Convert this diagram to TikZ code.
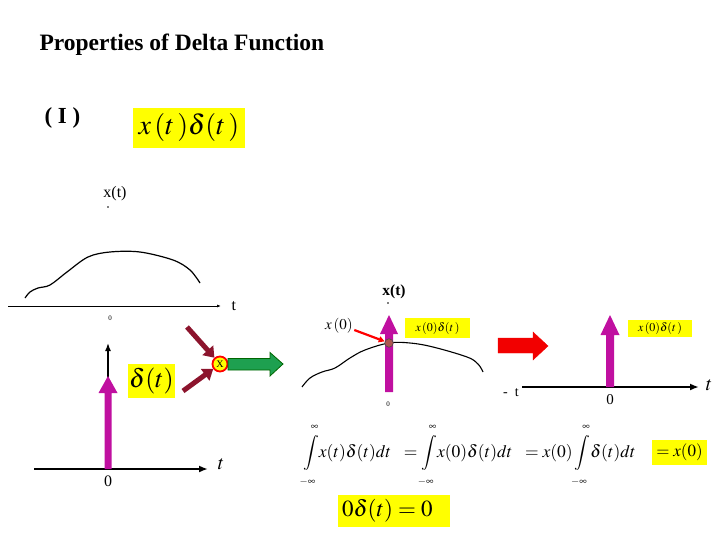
\documentclass[tikz,border=0pt]{standalone}
\usepackage{mathptmx}
\usepackage[no-math]{fontspec}
\setmainfont{Liberation Serif}
\usepackage{tikz}
\usetikzlibrary{arrows.meta}

\definecolor{spikemag}{RGB}{192,16,160}
\definecolor{feedred}{RGB}{140,20,45}
\definecolor{outgreen}{RGB}{30,160,80}
\definecolor{hlyellow}{RGB}{255,255,0}
\definecolor{pointbrown}{RGB}{175,85,80}

\newcommand{\uplim}{\raisebox{3pt}{$\scriptscriptstyle\infty$}}
\newcommand{\lowlim}{\raisebox{-3pt}{$\scriptscriptstyle-\infty$}}

\begin{document}
\begin{tikzpicture}[x=1pt,y=-1pt,
    hl/.style={fill=hlyellow, inner sep=0pt},
    spike/.style={fill=spikemag},
    axis/.style={line width=1.8pt, -{Latex[length=9pt,width=7pt]}},
    thinaxis/.style={line width=0.8pt, -{Latex[length=4pt,width=3pt]}},
    feed/.style={feedred, line width=5pt, -{Triangle[length=10pt,width=14pt]}},
    mult/.style={circle, draw=red, line width=1.8pt, fill=hlyellow, inner sep=0pt, minimum size=15pt, font=\fontsize{10}{10}\selectfont}
]
\useasboundingbox (0,0) rectangle (720,540);

% Title
\node[anchor=west, font=\fontsize{23.5}{26}\selectfont\bfseries] (title) at (36,45) {Properties of Delta Function};
\node[anchor=west, font=\fontsize{23}{26}\selectfont\bfseries] (num) at (41,118) {( I )};
\node[hl, minimum width=112pt, minimum height=40pt, font=\fontsize{28}{30}\selectfont] (prod) at (189,128) {$x\,(t\,)\delta(t\,)$};

% Signal x(t)
\node[font=\fontsize{16}{17}\selectfont] (xlbl) at (115,194) {x(t)};
\fill (108,207) circle (0.9pt);
\coordinate (xstart) at (8,306);
\coordinate (xend) at (221,306);
\draw[thinaxis] (xstart) -- (xend);
\node[anchor=west, font=\fontsize{16}{16}\selectfont] (xt) at (228,306) {t};
\node[font=\fontsize{7}{7}\selectfont] (xzero) at (110,318) {0};
\draw[line width=1.2pt] plot[smooth, tension=0.55] coordinates {(25,298) (30,292) (38,288) (50,285) (67,272) (88,257) (110,252) (140,252) (173,260) (190,270) (200,283)};

% Delta function
\coordinate (dstart) at (34,469);
\coordinate (dend) at (208,469);
\draw[axis] (dstart) -- (dend);
\coordinate (dtop) at (108,343);
\draw[line width=1.5pt, -{Latex[length=8pt,width=6pt]}] (108,469) -- (dtop);
\fill[spike] (104.5,469) -- (104.5,393) -- (98.5,393) -- (108,376) -- (117.5,393) -- (111.5,393) -- (111.5,469) -- cycle;
\node[font=\fontsize{20}{20}\selectfont] (dt) at (221,464) {$t$};
\node[font=\fontsize{16}{16}\selectfont] (dzero) at (108,481) {0};
\node[hl, minimum width=47pt, minimum height=34pt, font=\fontsize{26}{28}\selectfont] (dlbl) at (151.5,381) {$\delta(t)$};

% Multiplier
\node[mult] (mul) at (220,364) {X};
\coordinate (inA) at (187,327);
\coordinate (inB) at (183,391);
\draw[feed] (inA) -- (mul);
\draw[feed] (inB) -- (mul);
\filldraw[fill=outgreen, draw=black!60!green, line width=0.8pt] (228,358.5) -- (270,358.5) -- (270,352.5) -- (283,364) -- (270,376) -- (270,370) -- (228,370) -- cycle;

% Sampling at t = 0
\node[font=\fontsize{15.5}{16}\selectfont\bfseries] (mxlbl) at (394,292) {x(t)};
\fill (388,303) circle (0.9pt);
\draw[line width=1.1pt] plot[smooth, tension=0.6] coordinates {(302,387) (310,378) (322,372) (335,368) (350,358) (365,350) (389,343) (410,343) (433,347) (467,357) (478,364) (483,372)};
\fill[spike] (385,392) -- (385,334) -- (380,334) -- (389,315) -- (398,334) -- (393,334) -- (393,392) -- cycle;
\node[circle, fill=pointbrown, draw=black!70, line width=0.6pt, inner sep=0pt, minimum size=8.5pt] (pt) at (389,343) {};
\node[font=\fontsize{15}{15}\selectfont] (x0) at (339,326) {$x\,(0)$};
\draw[red, line width=2.2pt, -{Triangle[length=6pt,width=6pt]}] (x0.east) ++(-2,4) -- (pt);
\node[hl, minimum width=65pt, minimum height=20pt, font=\fontsize{12}{12}\selectfont] (mprod) at (437.5,328) {$x\,(0)\delta(t\,)$};
\node[font=\fontsize{7}{7}\selectfont] (mzero) at (388,404) {0};
\node[font=\fontsize{14}{14}\selectfont] (mt) at (511,393) {-\ \ t};

% Result
\filldraw[fill=red!95!black, draw=red!95!black] (498,338) -- (533,338) -- (533,332) -- (548,346) -- (533,360) -- (533,353) -- (498,353) -- cycle;
\coordinate (rstart) at (522,387);
\coordinate (rend) at (699,387);
\draw[axis] (rstart) -- (rend);
\fill[spike] (606,387) -- (606,335) -- (600.5,335) -- (610,315) -- (619.5,335) -- (614,335) -- (614,387) -- cycle;
\node[font=\fontsize{20}{20}\selectfont] (rt) at (709,385) {$t$};
\node[font=\fontsize{15}{15}\selectfont] (rzero) at (610,400) {0};
\node[hl, minimum width=64pt, minimum height=17pt, font=\fontsize{12}{12}\selectfont] (rprod) at (660,328.5) {$x\,(0)\delta(t\,)$};

% Sifting property
\node[anchor=west, inner sep=0pt, font=\fontsize{17.5}{19}\selectfont] (sift) at (303,455) {$\displaystyle \int\limits_{\lowlim}^{\uplim}\! x(t)\delta(t)dt\ \ = \int\limits_{\lowlim}^{\uplim}\! x(0)\delta(t)dt\ \ = x(0)\int\limits_{\lowlim}^{\uplim}\!\delta(t)dt$};
\node[hl, minimum width=55pt, minimum height=25pt, font=\fontsize{17}{18}\selectfont] (siftval) at (679.5,452.5) {$=x(0)$};
\node[hl, minimum width=112pt, minimum height=32pt, font=\fontsize{23}{24}\selectfont, text width=104pt, align=left] (zero) at (394,511) {$0\delta(t)=0$};

\end{tikzpicture}
\end{document}
